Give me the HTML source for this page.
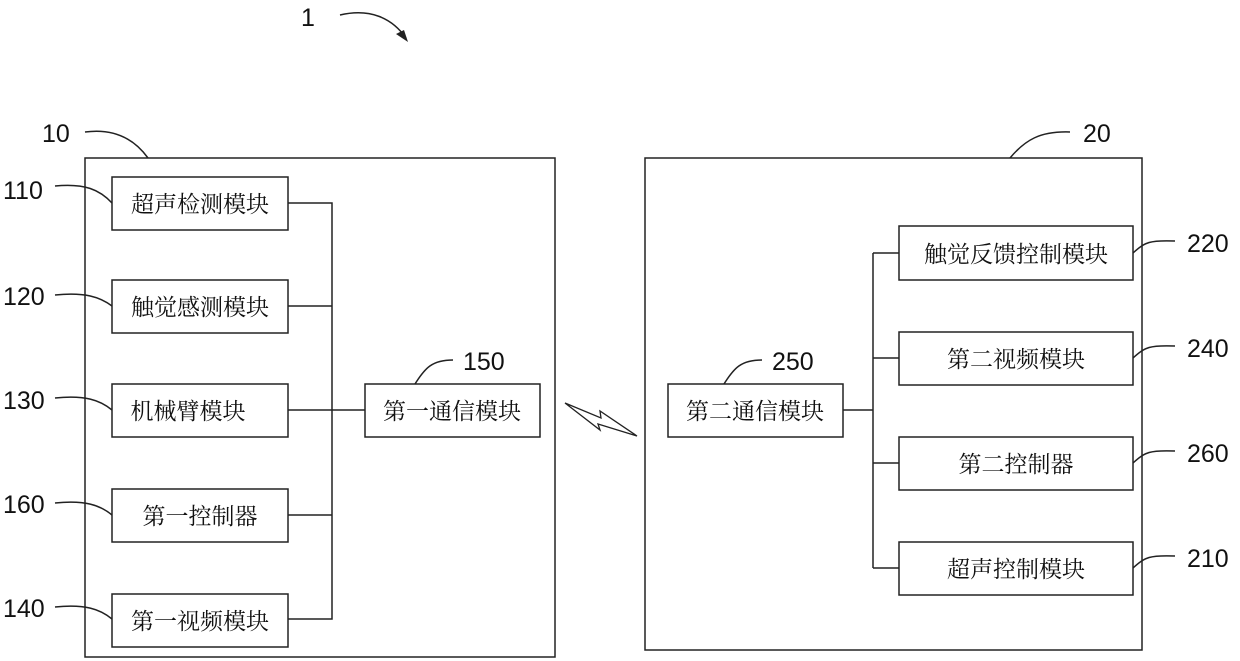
<html><body style="margin:0;background:#fff">
<svg width="1240" height="661" xmlns="http://www.w3.org/2000/svg" style="font-family:'Liberation Sans','Noto Sans CJK SC',sans-serif">
<g fill="none" stroke="#222" stroke-width="1.5">
<rect x="85" y="158" width="470" height="499"/>
<rect x="645" y="158" width="497" height="492"/>
<rect x="112" y="177" width="176" height="53"/>
<rect x="112" y="280" width="176" height="53"/>
<rect x="112" y="384" width="176" height="53"/>
<rect x="112" y="489" width="176" height="53"/>
<rect x="112" y="594" width="176" height="53"/>
<rect x="365" y="384" width="175" height="53"/>
<rect x="668" y="384" width="175" height="53"/>
<rect x="899" y="226" width="234" height="54"/>
<rect x="899" y="332" width="234" height="53"/>
<rect x="899" y="437" width="234" height="53"/>
<rect x="899" y="542" width="234" height="53"/>
<path d="M288 203H332V619H288M288 306H332M288 515H332M288 410H365"/>
<path d="M843 410H873M873 253V568M873 253H899M873 358H899M873 463H899M873 568H899"/>
<path d="M565 403L601 418L600 411L637 436L598 424L600 430Z" stroke-width="1.3"/>
<path d="M85 132C115 128 135 140 148 158"/>
<path d="M1010 158C1025 140 1040 131 1070 132"/>
<path d="M55 186C85 183 100 190 112 203M55 295C85 292 100 297 112 306M55 398C85 395 100 400 112 410M55 503C85 500 100 505 112 515M55 607C85 604 100 609 112 619"/>
<path d="M415 384C425 368 432 360 453 360"/>
<path d="M724 384C734 368 741 360 762 360"/>
<path d="M1133 253C1145 242 1150 240 1175 241M1133 358C1145 347 1150 345 1175 346M1133 463C1145 452 1150 450 1175 451M1133 568C1145 557 1150 555 1175 556"/>
<path d="M340 15C370 8 392 18 406 38"/>
</g>
<path d="M408 42L396 34L404 30Z" fill="#222"/>
<g font-size="25" fill="#111">
<text x="301" y="26">1</text>
<text x="42" y="142">10</text>
<text x="1083" y="142">20</text>
<text x="3" y="199">110</text><text x="3" y="305">120</text><text x="3" y="409">130</text>
<text x="3" y="513">160</text><text x="3" y="617">140</text>
<text x="463" y="370">150</text><text x="772" y="370">250</text>
<text x="1187" y="252">220</text><text x="1187" y="357">240</text>
<text x="1187" y="462">260</text><text x="1187" y="567">210</text>
</g>
<g font-size="23" fill="#111" text-anchor="middle" style="font-family:'Noto Serif CJK SC','Noto Sans CJK SC',serif">
<text x="200" y="212">超声检测模块</text>
<text x="200" y="315">触觉感测模块</text>
<text x="188" y="419">机械臂模块</text>
<text x="200" y="524">第一控制器</text>
<text x="200" y="629">第一视频模块</text>
<text x="452" y="419">第一通信模块</text>
<text x="755" y="419">第二通信模块</text>
<text x="1016" y="262">触觉反馈控制模块</text>
<text x="1016" y="367">第二视频模块</text>
<text x="1016" y="472">第二控制器</text>
<text x="1016" y="577">超声控制模块</text>
</g>
</svg>
</body></html>
